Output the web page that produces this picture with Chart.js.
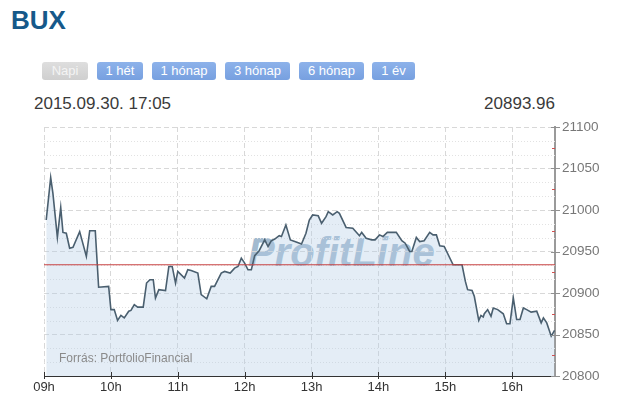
<!DOCTYPE html>
<html>
<head>
<meta charset="utf-8">
<script src="https://cdn.jsdelivr.net/npm/chart.js@4.4.1/dist/chart.umd.min.js"></script>
<style>
  html, body { margin:0; padding:0; background:#fff; }
  body { width:617px; height:404px; position:relative; overflow:hidden; font-family:"Liberation Sans", Arial, sans-serif; }
  .title { position:absolute; left:11px; top:7px; font-size:26px; line-height:26px; font-weight:bold; color:#16598a; }
  .btn { position:absolute; top:62px; height:18px; line-height:18px; font-size:13px; color:#fff; text-align:center;
         border-radius:3px; background:linear-gradient(#8db2ea,#77a0e0); }
  .btn.off { background:linear-gradient(#dedede,#cfcfcf); color:#f4f4f4; }
  .date { position:absolute; left:34px; top:95px; font-size:17px; line-height:17px; color:#3a3a3a; }
  .last { position:absolute; right:62px; top:95px; font-size:17px; line-height:17px; color:#3a3a3a; }
  .wm { position:absolute; left:248px; top:232px; font-size:40px; line-height:40px; font-weight:bold; font-style:italic; color:#a3bbd0; z-index:0; }
  .src { position:absolute; left:59px; top:351px; font-size:12px; line-height:14px; color:#8a8a8a; z-index:2; }
  #wrap { position:absolute; left:0; top:110px; width:617px; height:294px; z-index:1; }
</style>
</head>
<body>
<div class="title">BUX</div>
<div class="btn off" style="left:42px;width:46px;">Napi</div>
<div class="btn" style="left:97px;width:46px;">1 hét</div>
<div class="btn" style="left:152px;width:64px;">1 hónap</div>
<div class="btn" style="left:225px;width:65px;">3 hónap</div>
<div class="btn" style="left:299px;width:65px;">6 hónap</div>
<div class="btn" style="left:372px;width:43px;">1 év</div>
<div class="date">2015.09.30. 17:05</div>
<div class="last">20893.96</div>
<div class="wm">ProfitLine</div>
<div class="src">Forrás: PortfolioFinancial</div>
<div id="wrap"><canvas id="c" width="617" height="294"></canvas></div>
<script>
// ---- data ----
const times = ["09:02","09:06","09:08","09:12","09:15","09:17","09:20","09:23","09:26","09:32",
  "09:38","09:41","09:46","09:49","09:58","10:00","10:03","10:06","10:09","10:12",
  "10:16","10:18","10:21","10:24","10:29","10:32","10:35","10:38","10:40","10:43",
  "10:49","10:52","10:55","10:58","11:00","11:06","11:09","11:12","11:18","11:21",
  "11:26","11:30","11:33","11:39","11:42","11:47","11:51","11:54","11:57","12:00",
  "12:03","12:06","12:09","12:13","12:18","12:21","12:24","12:27","12:31","12:33",
  "12:37","12:41","12:45","12:51","12:55","12:58","13:01","13:06","13:09","13:13",
  "13:15","13:19","13:23","13:25","13:31","13:37","13:43","13:45","13:49","13:54",
  "13:57","14:01","14:04","14:08","14:12","14:16","14:21","14:24","14:28","14:30",
  "14:34","14:37","14:41","14:46","14:49","14:52","14:55","14:59","15:07","15:15",
  "15:18","15:20","15:24","15:26","15:30","15:32","15:34","15:35","15:38","15:41",
  "15:43","15:47","15:52","15:55","15:58","16:01","16:04","16:07","16:10","16:13",
  "16:17","16:22","16:26","16:28","16:31","16:35","16:38"];
const values = [20988,21039,21020,20967,21003,20973,20972,20954,20955,20974,
  20944,20975,20975,20907,20908,20880,20880,20867,20873,20870,
  20878,20879,20886,20883,20883,20912,20916,20916,20894,20904,
  20903,20932,20932,20912,20926,20918,20928,20927,20924,20898,
  20893,20908,20908,20924,20926,20924,20930,20932,20942,20936,
  20928,20928,20945,20951,20964,20956,20963,20965,20969,20968,
  20982,20964,20962,20959,20972,20988,20994,20993,20984,20992,
  20998,20994,20998,20996,20979,20978,20969,20973,20966,20964,
  20964,20970,20968,20973,20973,20973,20963,20960,20950,20950,
  20967,20962,20963,20973,20970,20970,20957,20956,20934,20934,
  20914,20904,20903,20896,20867,20873,20871,20875,20880,20872,
  20882,20880,20875,20863,20863,20894,20868,20868,20882,20880,
  20877,20878,20864,20870,20864,20848,20855];
const prevClose = 20934;
const hourTicks = [9,10,11,12,13,14,15,16];
const hourLabels = ["09h","10h","11h","12h","13h","14h","15h","16h"];
const yTicks = [20800,20850,20900,20950,21000,21050,21100];
const xMin = 9, xMax = 16.64;

const toHour = s => { const [h,m] = s.split(":").map(Number); return h + m/60; };
const series = times.map((t,i) => ({x: toHour(t), y: values[i]}));

const decor = {
  id:'decor',
  beforeDatasetsDraw(chart){
    const {ctx, chartArea:a, scales:{y}} = chart;
    ctx.save();
    ctx.strokeStyle = '#e2e2e2';
    ctx.lineWidth = 1;
    ctx.setLineDash([1,2]);
    for (let i = 0; i < yTicks.length-1; i++) {
      for (const f of [1/3, 2/3]) {
        const v = yTicks[i] + (yTicks[i+1]-yTicks[i])*f;
        const py = Math.round(y.getPixelForValue(v)) + 0.5;
        ctx.beginPath(); ctx.moveTo(a.left, py); ctx.lineTo(a.right, py); ctx.stroke();
      }
    }
    ctx.restore();
  },
  afterDraw(chart){
    const {ctx, chartArea:a, scales:{x,y}} = chart;
    ctx.save();
    ctx.lineWidth = 1;
    ctx.strokeStyle = '#909090';
    yTicks.forEach(v => {
      const py = Math.round(y.getPixelForValue(v)) + 0.5;
      ctx.beginPath(); ctx.moveTo(a.right-4, py); ctx.lineTo(a.right+5, py); ctx.stroke();
    });
    ctx.strokeStyle = '#d05050';
    for (let i = 0; i < yTicks.length-1; i++) {
      const v = (yTicks[i]+yTicks[i+1])/2;
      const py = Math.round(y.getPixelForValue(v)) + 0.5;
      ctx.beginPath(); ctx.moveTo(a.right-3, py); ctx.lineTo(a.right, py); ctx.stroke();
    }
    ctx.strokeStyle = '#333';
    hourTicks.forEach(h => {
      const px = Math.round(x.getPixelForValue(h)) + 0.5;
      ctx.beginPath(); ctx.moveTo(px, a.bottom-4); ctx.lineTo(px, a.bottom+3); ctx.stroke();
    });
    ctx.restore();
  }
};

new Chart(document.getElementById('c'), {
  type: 'line',
  data: {
    datasets: [
      { data: series, parsing:false, borderColor:'#4a5f6f', borderWidth:1.6, pointRadius:0,
        fill:'start', backgroundColor:'rgba(180,205,230,0.36)', tension:0, order:1 },
      { data: [{x:xMin,y:prevClose},{x:xMax,y:prevClose}], parsing:false, borderColor:'#c84040',
        borderWidth:1, pointRadius:0, fill:false, order:0 }
    ]
  },
  options: {
    responsive:false, animation:false, events:[],
    layout:{ padding:{ left:44, top:17, right:0, bottom:0 } },
    plugins:{ legend:{display:false}, tooltip:{enabled:false} },
    scales:{
      x:{ type:'linear', min:xMin, max:xMax,
          afterBuildTicks: s => { s.ticks = hourTicks.map(v => ({value:v})); },
          afterFit: s => { s.height = 28; },
          ticks:{ padding:4, color:'#333', font:{family:'Liberation Sans', size:13},
                  callback: v => hourLabels[hourTicks.indexOf(v)] ?? '' , maxRotation:0, autoSkip:false },
          grid:{ color:'#d8d8d8', drawTicks:false },
          border:{ display:true, color:'#333', width:1, dash:[5,3] } },
      y:{ position:'right', min:20800, max:21100,
          afterBuildTicks: s => { s.ticks = yTicks.map(v => ({value:v})); },
          afterFit: s => { s.width = 62; },
          ticks:{ padding:7, color:'#777', font:{family:'Liberation Sans', size:13.5}, callback: v => String(v) },
          grid:{ color:'#d8d8d8', drawTicks:false },
          border:{ display:true, color:'#9a9a9a', width:2, dash:[5,3] } }
    }
  },
  plugins:[decor]
});
</script>
</body>
</html>
